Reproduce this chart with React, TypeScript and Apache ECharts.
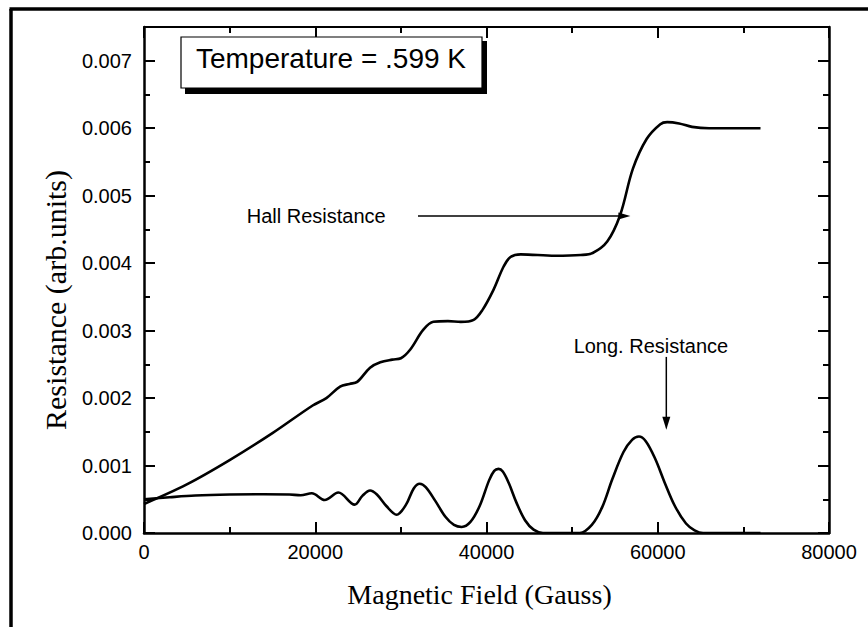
import React, { useEffect, useRef } from "react";
import * as echarts from "echarts";

// Hall resistance: magnetic field (Gauss) and resistance (in units of 0.001)
const hallField = [
  0, 5000, 10000, 15000, 19700, 21300, 22900, 24000, 24900, 26400,
  27600, 29000, 30000, 31100, 32600, 33800, 35500, 37000, 38500, 39500,
  40800, 42000, 42800, 44000, 48000, 51000, 52400, 54100, 55600, 57100,
  58700, 60300, 61100, 62500, 64000, 66000, 72000,
];
const hallResistance = [
  0.43, 0.72, 1.08, 1.48, 1.89, 2.0, 2.17, 2.21, 2.24, 2.45,
  2.53, 2.57, 2.59, 2.72, 3.01, 3.13, 3.14, 3.13, 3.16, 3.3,
  3.6, 3.95, 4.09, 4.13, 4.11, 4.12, 4.15, 4.32, 4.71, 5.4,
  5.84, 6.06, 6.09, 6.07, 6.02, 6.0, 6.0,
];

// Longitudinal resistance: magnetic field (Gauss) and resistance (in units of 0.001)
const longField = [
  0, 3000, 6000, 10000, 14000, 17000, 18300, 19600, 21100, 22700,
  24600, 25500, 26400, 27200, 28300, 29500, 30600, 31500, 32200, 32900,
  34000, 35200, 36200, 37100, 38100, 39200, 40300, 40900, 41400, 41900,
  42600, 43500, 44500, 45500, 46600, 50900, 52300, 53500, 54700, 56000,
  57000, 57800, 58600, 59700, 60800, 62000, 63300, 64300, 65300, 72000,
];
const longResistance = [
  0.5, 0.53, 0.555, 0.57, 0.575, 0.57, 0.56, 0.59, 0.49, 0.6,
  0.42, 0.55, 0.63, 0.57, 0.4, 0.27, 0.42, 0.66, 0.73, 0.68,
  0.48, 0.24, 0.12, 0.09, 0.16, 0.4, 0.78, 0.92, 0.95, 0.91,
  0.74, 0.45, 0.19, 0.05, 0.0, 0.0, 0.12, 0.38, 0.8, 1.2,
  1.38, 1.43, 1.36, 1.1, 0.75, 0.4, 0.14, 0.04, 0.0, 0.0,
];

const xTickValues = [0, 20000, 40000, 60000, 80000];
const yTickLabels = ["0.000", "0.001", "0.002", "0.003", "0.004", "0.005", "0.006", "0.007"];

const temperatureText = "Temperature = .599 K";
const hallLabel = "Hall Resistance";
const longLabel = "Long. Resistance";

const SANS = '"Liberation Sans", Arial, sans-serif';
const SERIF = '"Liberation Serif", "Times New Roman", serif';

export default function App() {
  const ref = useRef<HTMLDivElement>(null);

  useEffect(() => {
    document.body.style.margin = "0";
    if (!ref.current) return;
    const chart = echarts.init(ref.current, undefined, { renderer: "svg" });

    const axisLine = { show: true, onZero: false, lineStyle: { color: "#000", width: 2.5 } };
    const axisTick = { show: true, inside: true, length: 11, lineStyle: { color: "#000", width: 2 } };
    const minorTick = { show: true, splitNumber: 2, length: 6, lineStyle: { color: "#000", width: 2 } };

    chart.setOption({
      animation: false,
      backgroundColor: "#fff",
      grid: { left: 144, right: 39, top: 27, bottom: 94, containLabel: false },
      xAxis: [
        {
          type: "value",
          position: "bottom",
          min: 0,
          max: 80000,
          interval: 20000,
          axisLine,
          axisTick,
          minorTick,
          splitLine: { show: false },
          minorSplitLine: { show: false },
          axisLabel: {
            color: "#000",
            fontSize: 20,
            fontFamily: SANS,
            margin: 9,
            formatter: (v: number) => (xTickValues.includes(v) ? String(v) : ""),
          },
          name: "Magnetic Field (Gauss)",
          nameLocation: "middle",
          nameGap: 47,
          nameTextStyle: { color: "#000", fontSize: 28, fontFamily: SERIF, padding: [0, 14, 0, 0] },
        },
        {
          type: "value",
          position: "top",
          min: 0,
          max: 80000,
          interval: 20000,
          axisLine: { show: true, onZero: false, lineStyle: { color: "#000", width: 2 } },
          axisTick,
          minorTick,
          splitLine: { show: false },
          axisLabel: { show: false },
        },
      ],
      yAxis: [
        {
          type: "value",
          position: "left",
          min: 0,
          max: 7.5,
          interval: 1,
          axisLine,
          axisTick,
          minorTick,
          splitLine: { show: false },
          minorSplitLine: { show: false },
          axisLabel: {
            color: "#000",
            fontSize: 20,
            fontFamily: SANS,
            margin: 12,
            showMaxLabel: false,
            formatter: (v: number) => yTickLabels[Math.round(v)] ?? "",
          },
          name: "Resistance (arb.units)",
          nameLocation: "middle",
          nameRotate: 90,
          nameGap: 74,
          nameTextStyle: { color: "#000", fontSize: 30, fontFamily: SERIF, padding: [0, 40, 0, 0] },
        },
        {
          type: "value",
          position: "right",
          min: 0,
          max: 7.5,
          interval: 1,
          axisLine,
          axisTick,
          minorTick,
          splitLine: { show: false },
          axisLabel: { show: false },
        },
      ],
      series: [
        {
          name: "Hall Resistance",
          type: "line",
          xAxisIndex: 0,
          yAxisIndex: 0,
          showSymbol: false,
          smooth: 0.35,
          lineStyle: { color: "#000", width: 2.6 },
          data: hallField.map((f, i) => [f, hallResistance[i]]),
        },
        {
          name: "Long. Resistance",
          type: "line",
          xAxisIndex: 0,
          yAxisIndex: 0,
          showSymbol: false,
          smooth: 0.35,
          lineStyle: { color: "#000", width: 2.6 },
          data: longField.map((f, i) => [f, longResistance[i]]),
        },
      ],
    });

    const px = (x: number, y: number) =>
      chart.convertToPixel({ xAxisIndex: 0, yAxisIndex: 0 }, [x, y]) as number[];

    const hallText = px(12000, 4.7);
    const hallStart = px(32000, 4.7);
    const hallTip = px(56800, 4.7);
    const longText = px(59200, 2.77);
    const longStart = px(61000, 2.61);
    const longTip = px(61000, 1.53);

    chart.setOption({
      graphic: [
        // outer frame
        { type: "line", shape: { x1: 11, y1: 9, x2: 11, y2: 627 }, style: { stroke: "#000", lineWidth: 3.5 } },
        { type: "line", shape: { x1: 9.5, y1: 9, x2: 868, y2: 9 }, style: { stroke: "#000", lineWidth: 3.5 } },
        // temperature box shadow + box
        { type: "rect", shape: { x: 185, y: 41, width: 302, height: 53 }, style: { fill: "#000" }, z: 100 },
        { type: "rect", shape: { x: 181, y: 37, width: 301, height: 51 }, style: { fill: "#fff", stroke: "#000", lineWidth: 1.2 }, z: 101 },
        {
          type: "text",
          z: 102,
          style: {
            text: temperatureText,
            x: 331,
            y: 58,
            align: "center",
            verticalAlign: "middle",
            font: `28px ${SANS}`,
            fill: "#000",
          },
        },
        // Hall annotation
        {
          type: "text",
          z: 102,
          style: { text: hallLabel, x: hallText[0], y: hallText[1], align: "left", verticalAlign: "middle", font: `20px ${SANS}`, fill: "#000" },
        },
        { type: "line", z: 102, shape: { x1: hallStart[0], y1: hallStart[1], x2: hallTip[0] - 8, y2: hallTip[1] }, style: { stroke: "#000", lineWidth: 1.5 } },
        {
          type: "polygon",
          z: 102,
          shape: { points: [[hallTip[0], hallTip[1]], [hallTip[0] - 12, hallTip[1] - 3.5], [hallTip[0] - 12, hallTip[1] + 3.5]] },
          style: { fill: "#000" },
        },
        // Long annotation
        {
          type: "text",
          z: 102,
          style: { text: longLabel, x: longText[0], y: longText[1], align: "center", verticalAlign: "middle", font: `20px ${SANS}`, fill: "#000" },
        },
        { type: "line", z: 102, shape: { x1: longStart[0], y1: longStart[1], x2: longTip[0], y2: longTip[1] - 8 }, style: { stroke: "#000", lineWidth: 1.5 } },
        {
          type: "polygon",
          z: 102,
          shape: { points: [[longTip[0], longTip[1]], [longTip[0] - 4, longTip[1] - 13], [longTip[0] + 4, longTip[1] - 13]] },
          style: { fill: "#000" },
        },
      ],
    });

    return () => chart.dispose();
  }, []);

  return <div ref={ref} style={{ width: 868, height: 627 }} />;
}
